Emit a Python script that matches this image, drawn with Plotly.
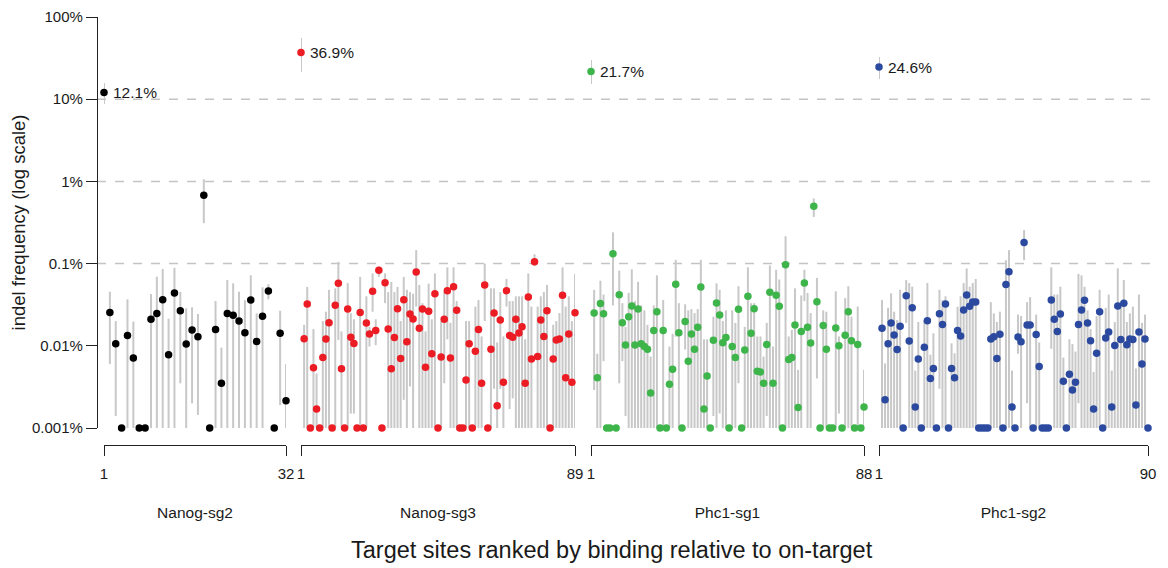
import numpy as np
import plotly.graph_objects as go

W, H = 1168, 568
FLOOR = 0.001  # detection floor (%)

# ---------------- data (indel frequency, %) ----------------
names = ["Nanog-sg2", "Nanog-sg3", "Phc1-sg1", "Phc1-sg2"]
colors = ["#000000", "#ec1c24", "#3db54a", "#2b4a9f"]

nanog_sg2 = [12.1, 0.0255, 0.0106, 0, 0.0133, 0.0071, 0, 0, 0.021, 0.0248, 0.0364, 0.0078,
             0.0439, 0.0267, 0.0105, 0.0156, 0.0129, 0.677, 0, 0.0158, 0.0035, 0.0248, 0.0235,
             0.0200, 0.0144, 0.036, 0.0113, 0.0229, 0.0465, 0, 0.0142, 0.00215]
nanog_sg2_hi = [15.7, 0.0455, 0.02, 0, 0.0367, 0.0197, 0, 0, 0.0427, 0.0693, 0.086, 0.0214,
                0.089, 0.0452, 0.0286, 0.0294, 0.0244, 1.06, 0, 0.035, 0.0095, 0.063, 0.0575,
                0.0455, 0.036, 0.072, 0.0248, 0.0515, 0.056, 0, 0.0267, 0.006]
nanog_sg2_lo = [8.75, 0.006, 0.0014, 0, 0.001, 0.001, 0, 0, 0.001, 0.001, 0.001, 0.001,
                0.001, 0.0035, 0.001, 0.002, 0.00144, 0.31, 0, 0.001, 0.001, 0.001, 0.001,
                0.001, 0.001, 0.001, 0.001, 0.001, 0.0367, 0, 0.0019, 0.001]

nanog_sg3 = [36.9, 0.0122, 0.0323, 0, 0.0054, 0.0017, 0, 0.0072, 0.0121, 0.0191,
             0, 0.0311, 0.0575, 0.00526, 0, 0.028, 0.0127, 0.0107, 0, 0.0255,
             0, 0.0189, 0.0139, 0.046, 0.0154, 0.0828, 0, 0.0586, 0.016, 0.00526,
             0.0126, 0.0283, 0.007, 0.0364, 0.0112, 0.0244, 0.0212, 0.079, 0.0163, 0.028,
             0.0055, 0.0263, 0.008, 0.043, 0, 0.0073, 0.021, 0.0469, 0.0071, 0.0524,
             0.027, 0, 0, 0.00384, 0.0106, 0, 0.0086, 0.0158, 0.0035, 0.055,
             0, 0.0091, 0.0251, 0.00187, 0.0206, 0.0036, 0.0469, 0.0133, 0.0127, 0.021,
             0.0143, 0.0171, 0.0035, 0.0393, 0.0069, 0.105, 0.0074, 0.0206, 0.013, 0.0267,
             0, 0.0069, 0.0118, 0.0121, 0.0411, 0.0041, 0.0139, 0.0036, 0.0253]
nanog_sg3_hi = [55.6, 0.018, 0.052, 0, 0.016, 0.0046, 0, 0.02, 0.026, 0.048,
                0, 0.05, 0.105, 0.015, 0, 0.058, 0.025, 0.021, 0, 0.069,
                0, 0.04, 0.017, 0.076, 0.021, 0.092, 0, 0.076, 0.045, 0.06,
                0.045, 0.052, 0.02, 0.069, 0.048, 0.045, 0.043, 0.146, 0.055, 0.033,
                0.015, 0.057, 0.021, 0.076, 0, 0.02, 0.045, 0.09, 0.019, 0.09,
                0.035, 0, 0, 0.02, 0.02, 0, 0.03, 0.036, 0.013, 0.10,
                0, 0.05, 0.05, 0.011, 0.045, 0.013, 0.065, 0.035, 0.035, 0.04,
                0.04, 0.04, 0.012, 0.076, 0.03, 0.13, 0.03, 0.04, 0.045, 0.055,
                0, 0.018, 0.02, 0.025, 0.09, 0.03, 0.04, 0.02, 0.075]
nanog_sg3_lo = [21.4, 0.001, 0.001, 0, 0.001, 0.001, 0, 0.001, 0.001, 0.001,
                0, 0.001, 0.0118, 0.001, 0, 0.001, 0.0015, 0.0015, 0, 0.001,
                0, 0.001, 0.0098, 0.026, 0.0102, 0.069, 0, 0.033, 0.001, 0.001,
                0.001, 0.001, 0.001, 0.0022, 0.001, 0.0032, 0.001, 0.03, 0.001, 0.001,
                0.001, 0.001, 0.001, 0.001, 0, 0.001, 0.0035, 0.012, 0.001, 0.001,
                0.001, 0, 0, 0.001, 0.001, 0, 0.001, 0.001, 0.001, 0.02,
                0, 0.001, 0.003, 0.001, 0.003, 0.001, 0.03, 0.0017, 0.0023, 0.001,
                0.001, 0.001, 0.001, 0.001, 0.001, 0.093, 0.001, 0.001, 0.001, 0.001,
                0, 0.001, 0.001, 0.001, 0.001, 0.001, 0.001, 0.001, 0.001]

phc1_sg1 = [21.7, 0.0251, 0.0041, 0.0326, 0.0246, 0, 0, 0.132, 0, 0.0419,
            0.0191, 0.0102, 0.0226, 0.0305, 0.0102, 0.028, 0.0106, 0.0098, 0.0091, 0.00267,
            0.0154, 0.026, 0, 0.0154, 0, 0.0034, 0.0052, 0.056, 0.0144, 0,
            0.0197, 0.0065, 0.0139, 0.0091, 0.0168, 0.0519, 0.0017, 0.0043, 0, 0.0117,
            0.0332, 0.0237, 0.0109, 0.0126, 0, 0.0098, 0.0072, 0.0278, 0, 0.0089,
            0.04, 0.0142, 0.0283, 0.0049, 0.0048, 0.0035, 0.0104, 0.0448, 0.0035, 0.0411,
            0.0302, 0, 0.097, 0.0068, 0.0072, 0.0179, 0.00177, 0.0149, 0.058, 0.0168,
            0.0108, 0.50, 0.0344, 0, 0.0176, 0.0091, 0, 0, 0.0165, 0.01,
            0, 0.0134, 0.026, 0.0115, 0, 0.0104, 0, 0.0018]
phc1_sg1_hi = [30.0, 0.048, 0.008, 0.062, 0.042, 0, 0, 0.24, 0, 0.082,
               0.033, 0.017, 0.044, 0.085, 0.035, 0.06, 0.031, 0.027, 0.018, 0.0074,
               0.031, 0.072, 0, 0.036, 0, 0.0098, 0.014, 0.111, 0.033, 0,
               0.032, 0.027, 0.028, 0.025, 0.028, 0.111, 0.012, 0.012, 0, 0.0226,
               0.0575, 0.048, 0.02, 0.027, 0, 0.027, 0.019, 0.053, 0, 0.017,
               0.09, 0.033, 0.033, 0.013, 0.013, 0.0074, 0.019, 0.095, 0.0098, 0.084,
               0.064, 0, 0.215, 0.013, 0.0156, 0.05, 0.0051, 0.041, 0.084, 0.044,
               0.025, 0.62, 0.067, 0, 0.027, 0.026, 0, 0, 0.046, 0.013,
               0, 0.038, 0.053, 0.0226, 0, 0.03, 0, 0.0051]
phc1_sg1_lo = [15.3, 0.0029, 0.001, 0.001, 0.0065, 0, 0, 0.031, 0, 0.0035,
               0.0065, 0.0014, 0.001, 0.001, 0.001, 0.001, 0.001, 0.001, 0.001, 0.001,
               0.001, 0.001, 0, 0.001, 0, 0.001, 0.001, 0.0129, 0.001, 0,
               0.009, 0.001, 0.001, 0.001, 0.001, 0.001, 0.001, 0.001, 0, 0.0014,
               0.001, 0.0015, 0.001, 0.001, 0, 0.001, 0.001, 0.0035, 0, 0.001,
               0.001, 0.001, 0.001, 0.001, 0.001, 0.001, 0.0014, 0.001, 0.001, 0.001,
               0.001, 0, 0.001, 0.001, 0.001, 0.001, 0.001, 0.001, 0.035, 0.001,
               0.001, 0.37, 0.004, 0, 0.001, 0.001, 0, 0, 0.001, 0.0015,
               0, 0.001, 0.001, 0.001, 0, 0.001, 0, 0.001]

phc1_sg2 = [24.6, 0.0163, 0.0022, 0.0106, 0.0189, 0.0135, 0.009, 0.0173, 0, 0.0407,
            0.0114, 0.0291, 0.0018, 0.0069, 0, 0.0096, 0.0202, 0.004, 0.0053, 0,
            0.0246, 0.0181, 0.0323, 0, 0.0053, 0.0041, 0.0154, 0.0132, 0.0273, 0.0415,
            0.0302, 0.0341, 0.0341, 0, 0, 0, 0, 0.0121, 0.0129, 0.007,
            0.0138, 0, 0.0555, 0.0798, 0.0018, 0, 0.0128, 0.0112, 0.18, 0.0179,
            0.0179, 0, 0.0137, 0.0056, 0, 0, 0, 0.036, 0.021, 0.0149,
            0.0244, 0.0037, 0, 0.0045, 0.0029, 0.0036, 0.0181, 0.0273, 0.0357, 0.0189,
            0.0115, 0.0017, 0.0081, 0.026, 0, 0.0124, 0.0147, 0.0018, 0.0101, 0.0305,
            0.0119, 0.0329, 0.0103, 0.0121, 0.0119, 0.0019, 0.0147, 0.006, 0.0121, 0]
phc1_sg2_hi = [32.6, 0.036, 0.0061, 0.029, 0.0435, 0.026, 0.0206, 0.048, 0, 0.063,
               0.058, 0.0524, 0.005, 0.0195, 0, 0.0206, 0.058, 0.0078, 0.0142, 0,
               0.048, 0.036, 0.04, 0, 0.0107, 0.0081, 0.0299, 0.04, 0.058, 0.0875,
               0.0524, 0.058, 0.065, 0, 0, 0, 0, 0.034, 0.0248, 0.0195,
               0.026, 0, 0.11, 0.146, 0.005, 0, 0.024, 0.023, 0.256, 0.034,
               0.039, 0, 0.024, 0.011, 0, 0, 0, 0.09, 0.042, 0.042,
               0.0524, 0.0072, 0, 0.012, 0.0105, 0.0085, 0.075, 0.072, 0.0524, 0.027,
               0.016, 0.0048, 0.023, 0.048, 0, 0.029, 0.042, 0.005, 0.0195, 0.0875,
               0.034, 0.063, 0.0195, 0.0248, 0.03, 0.0053, 0.042, 0.019, 0.024, 0]
phc1_sg2_lo = [17.6, 0.001, 0.001, 0.001, 0.001, 0.001, 0.001, 0.001, 0, 0.019,
               0.001, 0.001, 0.001, 0.001, 0, 0.001, 0.001, 0.001, 0.001, 0,
               0.003, 0.001, 0.001, 0, 0.001, 0.001, 0.001, 0.001, 0.001, 0.001,
               0.001, 0.001, 0.001, 0, 0, 0, 0, 0.001, 0.001, 0.001,
               0.001, 0, 0.001, 0.001, 0.001, 0, 0.008, 0.001, 0.11, 0.002,
               0.001, 0, 0.001, 0.001, 0, 0, 0, 0.0092, 0.001, 0.001,
               0.001, 0.001, 0, 0.001, 0.001, 0.001, 0.002, 0.001, 0.001, 0.001,
               0.001, 0.001, 0.001, 0.001, 0, 0.001, 0.001, 0.001, 0.001, 0.001,
               0.001, 0.001, 0.001, 0.001, 0.001, 0.001, 0.001, 0.001, 0.001, 0]

y_tickvals = [0.001, 0.01, 0.1, 1, 10, 100]
y_ticktext = ["0.001%", "0.01%", "0.1%", "1%", "10%", "100%"]
grid_levels = [0.1, 1, 10]

# ---------------- layout geometry (pixels) ----------------
panel_px = [(104, 286), (301, 575), (591, 864), (879, 1148)]
Y_TOP, Y_BOT = 17, 428
Y_AXIS_X = 97
X_AXIS_Y = 445

FONT = "Liberation Sans, Arial, Helvetica, sans-serif"
TXT = "#1a1a1a"

series = [
    (nanog_sg2, nanog_sg2_hi, nanog_sg2_lo),
    (nanog_sg3, nanog_sg3_hi, nanog_sg3_lo),
    (phc1_sg1, phc1_sg1_hi, phc1_sg1_lo),
    (phc1_sg2, phc1_sg2_hi, phc1_sg2_lo),
]

fig = go.Figure()
for i, ((val, hi, lo), name, col, (px0, px1)) in enumerate(zip(series, names, colors, panel_px)):
    xa = "x" if i == 0 else f"x{i+1}"
    n = len(val)
    ranks = np.arange(1, n + 1)
    raw = np.array(val, dtype=float)
    v = np.maximum(raw, FLOOR)
    hi_a = np.array(hi, dtype=float)
    lo_a = np.maximum(np.array(lo, dtype=float), FLOOR)
    plus = np.where(hi_a > 0, np.maximum(hi_a - v, 0), 0)
    minus = np.where(hi_a > 0, np.maximum(v - lo_a, 0), 0)
    fig.add_trace(go.Scatter(
        x=ranks, y=v, mode="markers", xaxis=xa, yaxis="y",
        marker=dict(color=col, size=7.5, line=dict(width=0)),
        error_y=dict(type="data", array=plus, arrayminus=minus, symmetric=False,
                     color="#c8c8c8", thickness=2, width=0),
        cliponaxis=False, showlegend=False, name=name,
    ))
    fig.add_annotation(x=1, y=np.log10(val[0]), xref=xa, yref="y",
                       text=f"{val[0]}%", showarrow=False, xanchor="left", yanchor="middle",
                       xshift=7, font=dict(family=FONT, size=15.5, color=TXT))
    key = "xaxis" if i == 0 else f"xaxis{i+1}"
    fig.layout[key] = dict(
        domain=[px0 / W, px1 / W], range=[1, n], anchor="free",
        position=(H - X_AXIS_Y) / H,
        showline=True, linecolor="#222222", linewidth=1.2,
        ticks="outside", ticklen=10, tickwidth=1.2, tickcolor="#222222",
        ticklabelstandoff=5,
        tickvals=[1, n], ticktext=["1", str(n)],
        tickfont=dict(family=FONT, size=15, color=TXT),
        showgrid=False, zeroline=False, automargin=False, fixedrange=True,
        title=dict(text=name, standoff=26, font=dict(family=FONT, size=15.5, color=TXT)),
    )

fig.update_layout(
    width=W, height=H,
    margin=dict(l=0, r=0, t=0, b=0),
    paper_bgcolor="white", plot_bgcolor="white",
    yaxis=dict(
        type="log", range=[-3, 2], domain=[(H - Y_BOT) / H, (H - Y_TOP) / H],
        anchor="free", position=Y_AXIS_X / W, side="left",
        showline=True, linecolor="#222222", linewidth=1.2,
        ticks="outside", ticklen=11, tickwidth=1.2, tickcolor="#222222",
        tickvals=y_tickvals, ticktext=y_ticktext,
        tickfont=dict(family=FONT, size=15, color=TXT),
        showgrid=False, zeroline=False, automargin=False,
        title=dict(text="indel frequency (log scale)", standoff=0,
                   font=dict(family=FONT, size=18.5, color=TXT)),
    ),
)

for g in grid_levels:
    fig.add_shape(type="line", xref="paper", yref="y", x0=Y_AXIS_X / W, x1=1156 / W,
                  y0=g, y1=g, layer="below",
                  line=dict(color="#c4c4c4", width=1.5, dash="dash"))

fig.add_annotation(xref="paper", yref="paper", x=612 / W, y=(H - 550) / H,
                   text="Target sites ranked by binding relative to on-target",
                   showarrow=False, xanchor="center", yanchor="middle",
                   font=dict(family=FONT, size=23.5, color=TXT))

fig.write_html("out.html", config={"displayModeBar": False},
               post_script="document.body.style.margin='0';")
